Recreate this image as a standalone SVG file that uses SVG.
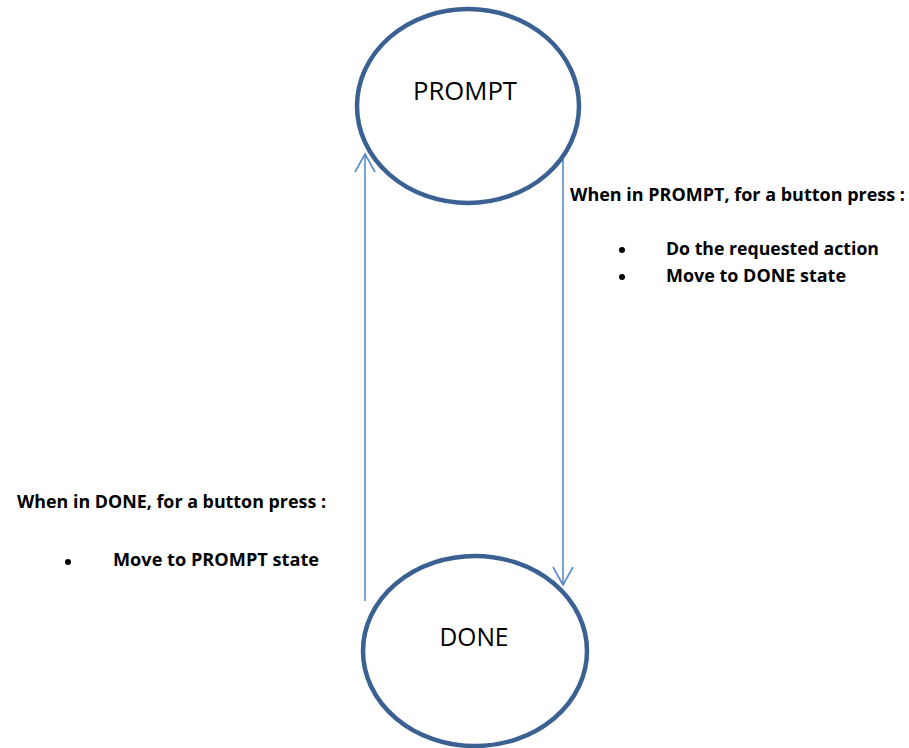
<svg xmlns="http://www.w3.org/2000/svg" width="909" height="748" viewBox="0 0 909 748">
  <style>
    .state { fill: #ffffff; stroke: #3B6193; stroke-width: 4.5; }
    .state-label { font-family: "Open Sans", "Liberation Sans", sans-serif; font-size: 25px; fill: #000000; }
    .edge { stroke: #5B8BC9; stroke-width: 1.6; fill: none; }
    .note { font-family: "Open Sans", "Liberation Sans", sans-serif; font-size: 17px; font-weight: bold; fill: #000000; }
    .bullet { fill: #000000; }
  </style>
  <rect width="909" height="748" fill="#ffffff"/>

  <!-- transitions -->
  <g id="connectors">
    <!-- DONE -> PROMPT -->
    <path class="edge" d="M365,601 L365,154"/>
    <path class="edge" d="M355,172 L365,154 L375,172"/>
    <!-- PROMPT -> DONE -->
    <path class="edge" d="M563,154 L563,585"/>
    <path class="edge" d="M553,567 L563,585 L573,567"/>
  </g>

  <g id="prompt">
    <ellipse class="state" cx="468" cy="106" rx="111" ry="97"/>
    <text class="state-label" x="465" y="100" text-anchor="middle" textLength="104" lengthAdjust="spacingAndGlyphs">PROMPT</text>
  </g>

  <g id="done">
    <ellipse class="state" cx="475" cy="651" rx="112" ry="95"/>
    <text class="state-label" x="474" y="646" text-anchor="middle" textLength="69" lengthAdjust="spacingAndGlyphs">DONE</text>
  </g>

  <g id="prompt-note">
    <text class="note" x="570" y="201" textLength="335" lengthAdjust="spacingAndGlyphs">When in PROMPT, for a button press :</text>
    <circle class="bullet" cx="622" cy="250" r="3"/>
    <text class="note" x="666" y="255" textLength="213" lengthAdjust="spacingAndGlyphs">Do the requested action</text>
    <circle class="bullet" cx="622" cy="277" r="3"/>
    <text class="note" x="666" y="282" textLength="180" lengthAdjust="spacingAndGlyphs">Move to DONE state</text>
  </g>

  <g id="done-note">
    <text class="note" x="17" y="508" textLength="309" lengthAdjust="spacingAndGlyphs">When in DONE, for a button press :</text>
    <circle class="bullet" cx="68" cy="562" r="3"/>
    <text class="note" x="113" y="566" textLength="206" lengthAdjust="spacingAndGlyphs">Move to PROMPT state</text>
  </g>
</svg>
